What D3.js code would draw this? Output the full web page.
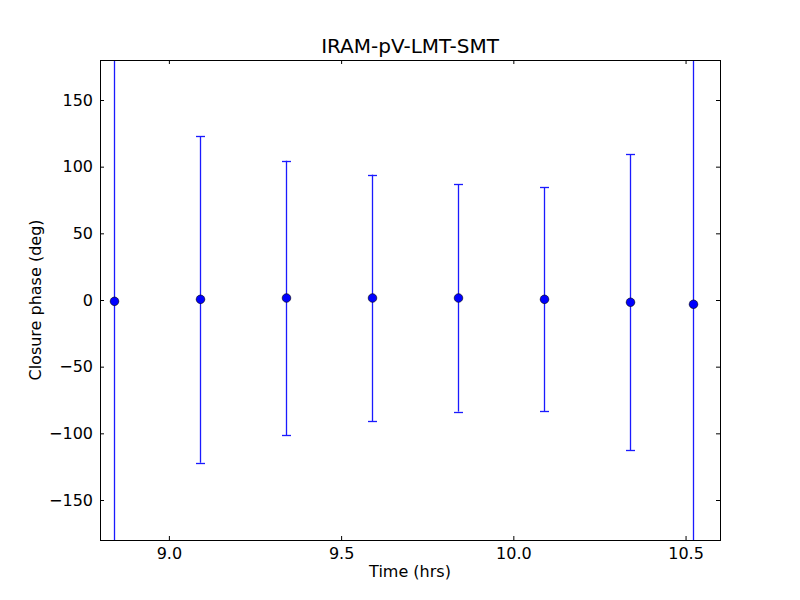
<!DOCTYPE html>
<html><head><meta charset="utf-8">
<script src="https://cdn.jsdelivr.net/npm/d3@7"></script>
<style>body{margin:0;background:#fff}svg{display:block}</style>
</head><body>
<script>
const times = [8.841, 9.090, 9.340, 9.590, 9.839, 10.089, 10.339, 10.522];
const phases = [-1.0, 0.5, 1.5, 1.5, 1.5, 0.5, -1.7, -3.2];
const errors = [260, 122.5, 103, 92.5, 85.2, 84.1, 111, 280];
const xTicks = [9.0, 9.5, 10.0, 10.5];
const yTicks = [-150, -100, -50, 0, 50, 100, 150];
const title = "IRAM-pV-LMT-SMT";

const W = 800, H = 600;
const m = {l: 100, r: 80, t: 60, b: 60};
const FONT = "DejaVu Sans, sans-serif";
const svg = d3.select("body").append("svg").attr("width", W).attr("height", H)
  .style("font-family", FONT);
const x = d3.scaleLinear().domain([8.8, 10.6]).range([m.l, W - m.r]);
const y = d3.scaleLinear().domain([-180, 180]).range([H - m.b, m.t]);
const px = v => Math.round(x(v)) + 0.5;

svg.append("defs").append("clipPath").attr("id", "clip")
  .append("rect").attr("x", m.l).attr("y", m.t).attr("width", W - m.l - m.r).attr("height", H - m.t - m.b);

const fmtY = d => d < 0 ? "\u2212" + Math.abs(d) : String(d);
const fmtX = d3.format(".1f");

function styleAxis(g) {
  g.select(".domain").remove();
  g.selectAll(".tick line").attr("stroke", "#000");
  g.selectAll(".tick text").attr("font-size", 16).attr("fill", "#000").attr("font-family", FONT);
}
svg.append("g").attr("transform", `translate(0,${H - m.b})`)
  .call(d3.axisBottom(x).tickValues(xTicks).tickFormat(fmtX).tickSize(-4).tickPadding(8)).call(styleAxis);
svg.append("g").attr("transform", `translate(0,${m.t})`)
  .call(d3.axisTop(x).tickValues(xTicks).tickFormat("").tickSize(-4)).call(styleAxis);
svg.append("g").attr("transform", `translate(${m.l},0)`)
  .call(d3.axisLeft(y).tickValues(yTicks).tickFormat(fmtY).tickSize(-4).tickPadding(7)).call(styleAxis);
svg.append("g").attr("transform", `translate(${W - m.r},0)`)
  .call(d3.axisRight(y).tickValues(yTicks).tickFormat("").tickSize(-4)).call(styleAxis);

const data = times.map((t, i) => ({t, v: phases[i], e: errors[i]}));
const g = svg.append("g").attr("clip-path", "url(#clip)");
const eb = g.selectAll(".eb").data(data).enter().append("g");
eb.append("line").attr("x1", d => px(d.t)).attr("x2", d => px(d.t))
  .attr("y1", d => y(d.v - d.e)).attr("y2", d => y(d.v + d.e))
  .attr("stroke", "#1a1aff").attr("stroke-width", 1.3);
[1, -1].forEach(s => {
  eb.append("line").attr("x1", d => px(d.t) - 4.5).attr("x2", d => px(d.t) + 4.5)
    .attr("y1", d => Math.round(y(d.v + s * d.e)) + 0.5).attr("y2", d => Math.round(y(d.v + s * d.e)) + 0.5)
    .attr("stroke", "#1a1aff").attr("stroke-width", 1.3);
});
g.selectAll(".pt").data(data).enter().append("circle")
  .attr("cx", d => px(d.t)).attr("cy", d => y(d.v)).attr("r", 4.3)
  .attr("fill", "#0000ff").attr("stroke", "#000").attr("stroke-width", 0.6);

svg.append("rect").attr("x", m.l + 0.5).attr("y", m.t + 0.5).attr("width", W - m.l - m.r).attr("height", H - m.t - m.b)
  .attr("fill", "none").attr("stroke", "#000").attr("stroke-width", 1);

svg.append("text").attr("x", (m.l + W - m.r) / 2).attr("y", 53).attr("text-anchor", "middle")
  .attr("font-size", 20).text(title);
svg.append("text").attr("x", (m.l + W - m.r) / 2).attr("y", 577).attr("text-anchor", "middle")
  .attr("font-size", 16).text("Time (hrs)");
svg.append("text").attr("transform", `translate(41,${(m.t + H - m.b) / 2}) rotate(-90)`).attr("text-anchor", "middle")
  .attr("font-size", 16).text("Closure phase (deg)");
</script>
</body></html>
